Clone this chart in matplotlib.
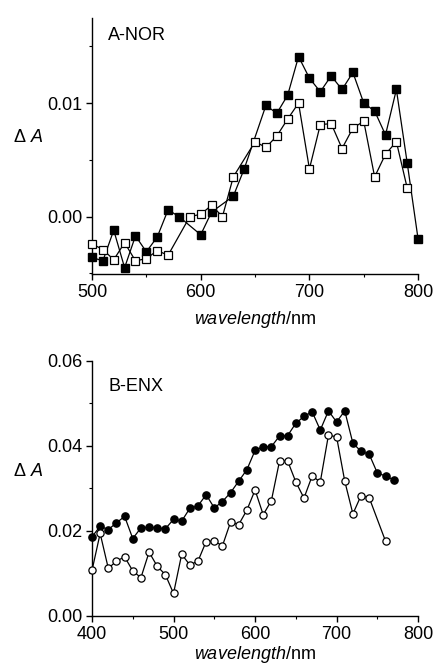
import numpy as np
import matplotlib
matplotlib.use('Agg')
import matplotlib.pyplot as plt
from matplotlib.ticker import MultipleLocator

plt.rcParams['font.family'] = ['Liberation Sans', 'DejaVu Sans']
plt.rcParams['mathtext.fontset'] = 'custom'
plt.rcParams['mathtext.rm'] = 'Liberation Sans'
plt.rcParams['mathtext.it'] = 'Liberation Sans:italic'

# ── Panel A: A-NOR (squares) ──
A_FILLED_WL = [500, 510, 520, 530, 540, 550, 560, 570, 580, 600, 610, 630, 640,
               660, 670, 680, 690, 700, 710, 720, 730, 740, 750, 760, 770, 780,
               790, 800]
A_FILLED_DA = [-0.0036, -0.0039, -0.0012, -0.0045, -0.0017, -0.0031, -0.0018,
               0.0006, 0.0000, -0.0016, 0.0004, 0.0018, 0.0042, 0.0098, 0.0091,
               0.0107, 0.0141, 0.0122, 0.0110, 0.0124, 0.0112, 0.0127, 0.0100,
               0.0093, 0.0072, 0.0112, 0.0047, -0.0020]

A_OPEN_WL = [500, 510, 520, 530, 540, 550, 560, 570, 590, 600, 610, 620, 630,
             650, 660, 670, 680, 690, 700, 710, 720, 730, 740, 750, 760, 770,
             780, 790]
A_OPEN_DA = [-0.0024, -0.0029, -0.0038, -0.0023, -0.0039, -0.0037, -0.0030,
             -0.0034, 0.0000, 0.0002, 0.0010, 0.0000, 0.0035, 0.0066, 0.0061,
             0.0071, 0.0086, 0.0100, 0.0042, 0.0081, 0.0082, 0.0060, 0.0078,
             0.0084, 0.0035, 0.0055, 0.0066, 0.0025]

# ── Panel B: B-ENX (circles) ──
B_FILLED_WL = list(range(400, 780, 10))
B_FILLED_DA = [0.0186, 0.0211, 0.0203, 0.0219, 0.0234, 0.0182, 0.0207, 0.0209,
               0.0207, 0.0205, 0.0227, 0.0223, 0.0253, 0.0259, 0.0285, 0.0254,
               0.0269, 0.0290, 0.0317, 0.0344, 0.0389, 0.0398, 0.0398, 0.0423,
               0.0424, 0.0453, 0.0469, 0.0480, 0.0437, 0.0482, 0.0456, 0.0482,
               0.0406, 0.0387, 0.0380, 0.0336, 0.0329, 0.0320]

B_OPEN_WL = list(range(400, 750, 10)) + [760]
B_OPEN_DA = [0.0107, 0.0194, 0.0112, 0.0129, 0.0139, 0.0106, 0.0090, 0.0150,
             0.0117, 0.0097, 0.0053, 0.0145, 0.0120, 0.0129, 0.0175, 0.0176,
             0.0165, 0.0221, 0.0215, 0.0249, 0.0296, 0.0238, 0.0271, 0.0364,
             0.0364, 0.0315, 0.0277, 0.0329, 0.0315, 0.0425, 0.0421, 0.0317,
             0.0240, 0.0283, 0.0278, 0.0176]

FS = 13
XLABEL = r'$\mathit{wavelength}$/nm'
YLABEL = r'$\mathrm{\Delta}\ \mathit{A}$'


def style_axes(ax):
    for side in ('top', 'right'):
        ax.spines[side].set_visible(False)
    for side in ('left', 'bottom'):
        ax.spines[side].set_linewidth(1.0)
    ax.tick_params(which='major', direction='out', length=4, width=1.0,
                   labelsize=FS, pad=3)
    ax.tick_params(which='minor', direction='out', length=2.5, width=0.8)


fig = plt.figure(figsize=(4.36, 6.64), dpi=100)

# panel A
axA = fig.add_axes([0.211, 0.5873, 0.748, 0.3856])
axA.plot(A_FILLED_WL, A_FILLED_DA, '-s', color='black', lw=0.9, ms=5.5,
         mfc='black', mec='black', clip_on=False, zorder=3)
axA.plot(A_OPEN_WL, A_OPEN_DA, '-s', color='black', lw=0.9, ms=5.5,
         mfc='white', mec='black', mew=0.9, clip_on=False, zorder=4)
axA.set_xlim(500, 800)
axA.set_ylim(-0.00506, 0.0175)
axA.xaxis.set_major_locator(MultipleLocator(100))
axA.xaxis.set_minor_locator(MultipleLocator(50))
axA.set_yticks([0.0, 0.01])
axA.set_yticklabels(['0.00', '0.01'])
axA.yaxis.set_minor_locator(MultipleLocator(0.005))
style_axes(axA)
axA.set_xlabel(XLABEL, fontsize=FS, labelpad=6)
axA.set_ylabel(YLABEL, fontsize=FS, rotation=0)
axA.yaxis.set_label_coords(-0.196, 0.5)
axA.text(0.05, 0.93, 'A-NOR', transform=axA.transAxes, fontsize=FS,
         ha='left', va='center')

# panel B
axB = fig.add_axes([0.211, 0.0723, 0.748, 0.3845])
axB.plot(B_FILLED_WL, B_FILLED_DA, '-o', color='black', lw=0.9, ms=5.2,
         mfc='black', mec='black', clip_on=False, zorder=3)
axB.plot(B_OPEN_WL, B_OPEN_DA, '-o', color='black', lw=0.9, ms=5.2,
         mfc='white', mec='black', mew=0.9, clip_on=False, zorder=4)
axB.set_xlim(400, 800)
axB.set_ylim(0, 0.06)
axB.xaxis.set_major_locator(MultipleLocator(100))
axB.xaxis.set_minor_locator(MultipleLocator(50))
axB.set_yticks([0.0, 0.02, 0.04, 0.06])
axB.set_yticklabels(['0.00', '0.02', '0.04', '0.06'])
axB.yaxis.set_minor_locator(MultipleLocator(0.01))
style_axes(axB)
axB.set_xlabel(XLABEL, fontsize=FS, labelpad=1)
axB.set_ylabel(YLABEL, fontsize=FS, rotation=0)
axB.yaxis.set_label_coords(-0.196, 0.533)
axB.text(0.05, 0.9, 'B-ENX', transform=axB.transAxes, fontsize=FS,
         ha='left', va='center')

plt.savefig('out.png', dpi=100)
plt.close()
